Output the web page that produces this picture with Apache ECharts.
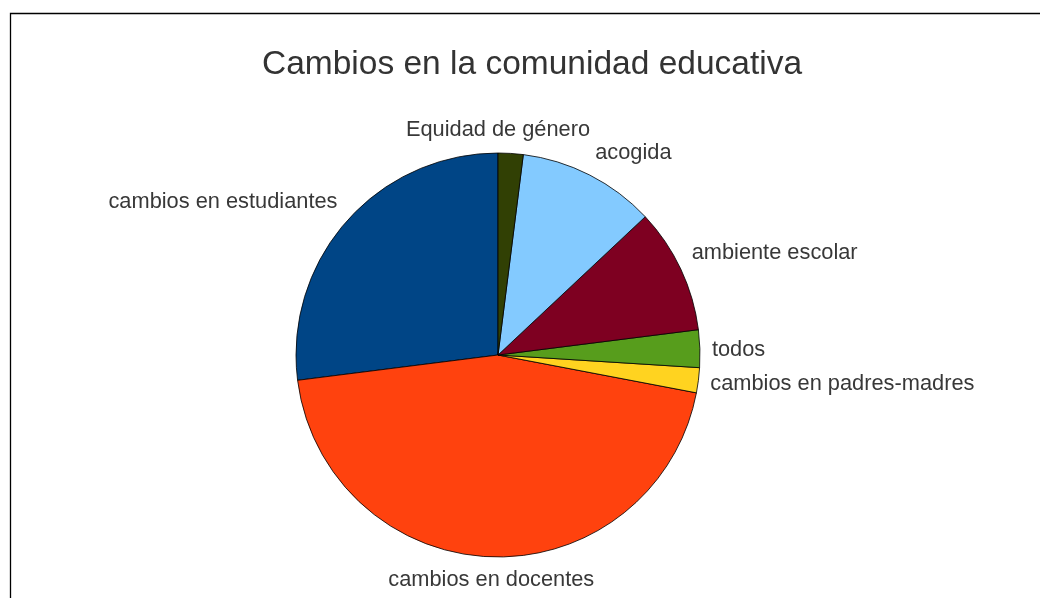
<!DOCTYPE html>
<html>
<head>
<meta charset="utf-8">
<style>
html,body{margin:0;padding:0;background:#fff;}
#main{width:1040px;height:598px;}
</style>
<script src="https://cdn.jsdelivr.net/npm/echarts@6/dist/echarts.min.js"></script>
</head>
<body>
<div id="main"></div>
<script>
var categories = ['cambios en estudiantes','cambios en docentes','cambios en padres-madres','todos','ambiente escolar','acogida','Equidad de género'];
var values = [27, 45, 2, 3, 10, 11, 2];
var colors = ['#004586','#ff420e','#ffd320','#579d1c','#7e0021','#83caff','#314004'];
var titleText = 'Cambios en la comunidad educativa';

var chart = echarts.init(document.getElementById('main'), null, {renderer:'canvas'});
var FONT = '"Liberation Sans", Arial, sans-serif';
var GAP = 12;

var option = {
  animation: false,
  backgroundColor: '#ffffff',
  title: {
    text: titleText,
    left: 257,
    top: 43,
    textStyle: {fontFamily: FONT, fontSize: 33.5, fontWeight: 'normal', color: '#333333'}
  },
  graphic: [{
    type: 'rect', silent: true, z: -1,
    shape: {x: 10.5, y: 13.5, width: 1200, height: 800},
    style: {fill: 'none', stroke: '#000000', lineWidth: 1.3}
  }],
  series: [{
    type: 'pie',
    center: [498, 355],
    radius: [0, 202],
    startAngle: 90,
    clockwise: false,
    avoidLabelOverlap: false,
    data: categories.map(function (c, i) {
      return {name: c, value: values[i], itemStyle: {color: colors[i]}};
    }),
    itemStyle: {borderColor: '#000000', borderWidth: 0.8},
    label: {
      show: true, position: 'outside', formatter: '{b}',
      fontFamily: FONT, fontSize: 21.8, color: '#383838'
    },
    labelLine: {show: false, length: 0, length2: 0},
    emphasis: {disabled: true},
    labelLayout: function (params) {
      var data = chart.getModel().getSeriesByIndex(0).getData();
      var lay = data.getItemLayout(params.dataIndex);
      var mid = (lay.startAngle + lay.endAngle) / 2;
      var dx = Math.cos(mid), dy = Math.sin(mid);
      var R = lay.r + GAP;
      var x = lay.cx + dx * R, y = lay.cy + dy * R;
      var align = dx > 0.2 ? 'left' : (dx < -0.2 ? 'right' : 'center');
      var va = dy < -0.2 ? 'bottom' : (dy > 0.2 ? 'top' : 'middle');
      if (align === 'center' && va === 'bottom') { x = lay.cx; }
      if (va === 'middle') { y += 2; }
      return {x: x, y: y, align: align, verticalAlign: va};
    }
  }]
};
chart.setOption(option);
</script>
</body>
</html>
